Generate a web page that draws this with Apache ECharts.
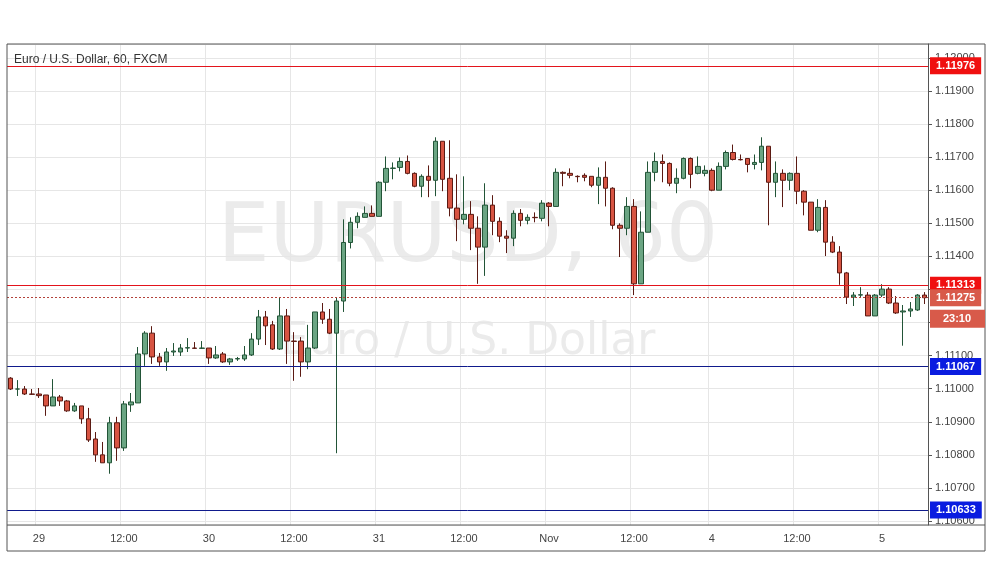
<!DOCTYPE html>
<html>
<head>
<meta charset="utf-8" />
<title>EURUSD 60</title>
<script src="https://cdn.jsdelivr.net/npm/echarts@6/dist/echarts.min.js"></script>
<style>
  html, body { margin: 0; padding: 0; background: #fff; }
  #chart { width: 991px; height: 588px; }
</style>
</head>
<body>
<div id="chart"></div>
<script type="text/javascript">
// hourly candles, Oct 28 20:00 .. Nov 5 06:00 (weekend removed)
var opens = [1.11032,1.10999,1.10999,1.10984,1.10984,1.10981,1.10948,1.10975,1.10963,1.10933,
  1.10948,1.10909,1.10848,1.10800,1.10776,1.10897,1.10821,1.10951,1.10957,1.11105,
  1.11168,1.11096,1.11081,1.11111,1.11111,1.11123,1.11123,1.11122,1.11123,1.11093,
  1.11105,1.11081,1.11090,1.11090,1.11102,1.11150,1.11217,1.11193,1.11120,1.11220,
  1.11144,1.11144,1.11081,1.11123,1.11232,1.11210,1.11168,1.11265,1.11442,1.11503,
  1.11518,1.11530,1.11521,1.11624,1.11666,1.11669,1.11687,1.11651,1.11612,1.11642,
  1.11630,1.11748,1.11636,1.11546,1.11512,1.11527,1.11485,1.11428,1.11555,1.11506,
  1.11461,1.11455,1.11530,1.11509,1.11518,1.11515,1.11561,1.11551,1.11654,1.11651,
  1.11642,1.11645,1.11642,1.11615,1.11639,1.11606,1.11494,1.11485,1.11551,1.11317,
  1.11473,1.11654,1.11687,1.11681,1.11621,1.11636,1.11696,1.11651,1.11651,1.11660,
  1.11600,1.11672,1.11714,1.11693,1.11696,1.11678,1.11684,1.11733,1.11624,1.11651,
  1.11630,1.11651,1.11597,1.11564,1.11479,1.11548,1.11443,1.11413,1.11350,1.11277,
  1.11283,1.11283,1.11220,1.11283,1.11301,1.11259,1.11232,1.11235,1.11238,1.11283];
var closes = [1.10999,1.10999,1.10984,1.10983,1.10979,1.10948,1.10975,1.10963,1.10933,1.10948,
  1.10909,1.10845,1.10800,1.10776,1.10897,1.10821,1.10954,1.10960,1.11105,1.11168,
  1.11096,1.11081,1.11111,1.11114,1.11123,1.11124,1.11122,1.11123,1.11093,1.11102,
  1.11081,1.11090,1.11091,1.11102,1.11150,1.11217,1.11190,1.11120,1.11220,1.11144,
  1.11143,1.11081,1.11123,1.11232,1.11210,1.11168,1.11265,1.11442,1.11503,1.11521,
  1.11530,1.11521,1.11624,1.11666,1.11667,1.11687,1.11651,1.11612,1.11642,1.11630,
  1.11748,1.11633,1.11546,1.11512,1.11527,1.11485,1.11428,1.11555,1.11506,1.11461,
  1.11455,1.11530,1.11509,1.11518,1.11517,1.11561,1.11551,1.11654,1.11651,1.11645,
  1.11641,1.11639,1.11615,1.11639,1.11606,1.11494,1.11485,1.11551,1.11317,1.11473,
  1.11654,1.11687,1.11681,1.11621,1.11636,1.11696,1.11648,1.11672,1.11660,1.11600,
  1.11672,1.11714,1.11693,1.11692,1.11678,1.11684,1.11733,1.11624,1.11651,1.11630,
  1.11651,1.11597,1.11564,1.11479,1.11548,1.11443,1.11413,1.11350,1.11277,1.11283,
  1.11284,1.11220,1.11283,1.11301,1.11259,1.11229,1.11235,1.11241,1.11283,1.11275];
var lows = [1.10996,1.10978,1.10981,1.10981,1.10972,1.10918,1.10948,1.10948,1.10930,1.10930,
  1.10894,1.10839,1.10779,1.10776,1.10743,1.10782,1.10812,1.10930,1.10957,1.11069,
  1.11075,1.11069,1.11054,1.11099,1.11099,1.11111,1.11120,1.11120,1.11075,1.11090,
  1.11078,1.11072,1.11084,1.11084,1.11099,1.11132,1.11132,1.11117,1.11117,1.11075,
  1.11024,1.11036,1.11059,1.11120,1.11196,1.11165,1.10805,1.11232,1.11424,1.11485,
  1.11518,1.11521,1.11521,1.11597,1.11633,1.11657,1.11648,1.11609,1.11579,1.11579,
  1.11582,1.11597,1.11521,1.11446,1.11497,1.11419,1.11317,1.11341,1.11464,1.11443,
  1.11410,1.11431,1.11491,1.11497,1.11503,1.11506,1.11491,1.11551,1.11612,1.11636,
  1.11624,1.11627,1.11609,1.11558,1.11551,1.11482,1.11398,1.11464,1.11283,1.11317,
  1.11473,1.11627,1.11624,1.11612,1.11591,1.11633,1.11606,1.11648,1.11642,1.11597,
  1.11600,1.11663,1.11690,1.11690,1.11654,1.11663,1.11660,1.11494,1.11579,1.11549,
  1.11600,1.11558,1.11524,1.11479,1.11473,1.11401,1.11410,1.11314,1.11256,1.11250,
  1.11277,1.11220,1.11220,1.11277,1.11256,1.11226,1.11130,1.11217,1.11235,1.11256];
var highs = [1.11035,1.11026,1.11008,1.10999,1.11002,1.10981,1.11029,1.10981,1.10966,1.10957,
  1.10948,1.10942,1.10869,1.10839,1.10915,1.10915,1.10963,1.10987,1.11126,1.11174,
  1.11189,1.11108,1.11123,1.11138,1.11135,1.11153,1.11141,1.11144,1.11123,1.11129,
  1.11111,1.11093,1.11096,1.11129,1.11168,1.11238,1.11235,1.11205,1.11277,1.11241,
  1.11171,1.11156,1.11193,1.11232,1.11259,1.11241,1.11277,1.11512,1.11518,1.11533,
  1.11551,1.11554,1.11627,1.11702,1.11684,1.11699,1.11705,1.11654,1.11648,1.11675,
  1.11760,1.11748,1.11751,1.11648,1.11642,1.11567,1.11521,1.11621,1.11585,1.11518,
  1.11479,1.11539,1.11543,1.11527,1.11533,1.11570,1.11564,1.11666,1.11657,1.11666,
  1.11645,1.11651,1.11642,1.11669,1.11687,1.11609,1.11500,1.11579,1.11573,1.11536,
  1.11687,1.11714,1.11708,1.11684,1.11666,1.11699,1.11699,1.11702,1.11675,1.11666,
  1.11684,1.11720,1.11738,1.11708,1.11696,1.11708,1.11760,1.11733,1.11687,1.11663,
  1.11654,1.11702,1.11600,1.11564,1.11573,1.11570,1.11461,1.11431,1.11353,1.11292,
  1.11307,1.11292,1.11286,1.11316,1.11307,1.11280,1.11253,1.11262,1.11286,1.11292];

var timeTickIdx = [4, 16, 28, 40, 52, 64, 76, 88, 99, 111, 123];
var timeTickText = ['29', '12:00', '30', '12:00', '31', '12:00', 'Nov', '12:00', '4', '12:00', '5'];

var levelPrices = [1.11976, 1.11313, 1.11067, 1.10633];
var levelColors = ['#e3141c', '#e3141c', '#0f1a8c', '#0f1a8c'];
var lastPrice = 1.11275;
var countdown = '23:10';

var cats = opens.map(function (v, i) { return i; });
var ohlc = opens.map(function (o, i) { return [o, closes[i], lows[i], highs[i]]; });

var markData = levelPrices.map(function (p, i) {
  return {
    yAxis: p,
    lineStyle: { color: levelColors[i], type: 'solid', width: 1, opacity: 1 },
    label: { backgroundColor: i < 2 ? '#f01010' : '#0a1ce0' }
  };
});
markData.push({
  yAxis: lastPrice,
  lineStyle: { color: '#b3423a', type: [2, 2], width: 1 },
  label: { backgroundColor: '#d85a4a' }
});

var graphics = [
  { id: 'frame', type: 'rect', shape: { x: 7, y: 44, width: 978, height: 507 }, style: { fill: 'none', stroke: '#555', lineWidth: 1 }, z: 10, silent: true },
  { id: 'sep', type: 'line', shape: { x1: 7, y1: 525, x2: 985, y2: 525 }, style: { stroke: '#555', lineWidth: 1 }, z: 10 },
  { id: 'title', type: 'text', x: 14, y: 54, style: { text: 'Euro / U.S. Dollar, 60, FXCM', fill: '#333', font: '12px "Liberation Sans", Arial' }, z: 10 },
  { id: 'wm1', type: 'text', x: 468, y: 240, style: { text: 'EURUSD, 60', fill: '#ebebeb', font: '82px "DejaVu Sans"', align: 'center', verticalAlign: 'middle' }, z: 0 },
  { id: 'wm2', type: 'text', x: 468, y: 343, style: { text: 'Euro / U.S. Dollar', fill: '#ebebeb', font: '44px "DejaVu Sans"', align: 'center', verticalAlign: 'middle' }, z: 0 }
];

var chart = echarts.init(document.getElementById('chart'));
chart.setOption({
  animation: false,
  backgroundColor: '#fff',
  grid: { left: 7, right: 63, top: 44, bottom: 63 },
  graphic: graphics,
  xAxis: {
    type: 'category',
    data: cats,
    boundaryGap: true,
    axisLine: { show: false },
    axisTick: { show: false },
    axisLabel: {
      interval: function (i) { return timeTickIdx.indexOf(i) >= 0; },
      formatter: function (v) { var k = timeTickIdx.indexOf(Number(v)); return k >= 0 ? timeTickText[k] : ''; },
      color: '#444', fontSize: 11, margin: 8, fontFamily: 'Liberation Sans'
    },
    splitLine: { show: true, interval: function (i) { return timeTickIdx.indexOf(i) >= 0; }, lineStyle: { color: '#e6e6e6' } }
  },
  yAxis: {
    type: 'value',
    position: 'right',
    min: 1.10588,
    max: 1.12042,
    splitNumber: 14,
    scale: true,
    axisLine: { show: true, lineStyle: { color: '#555' } },
    axisTick: { show: true, length: 4, lineStyle: { color: '#555' } },
    axisLabel: {
      showMinLabel: false, showMaxLabel: false,
      formatter: function (v) { return v.toFixed(5); },
      color: '#444', fontSize: 11, fontFamily: 'Liberation Sans', margin: 7
    },
    splitLine: { show: true, lineStyle: { color: '#e6e6e6' } }
  },
  series: [{
    type: 'candlestick',
    data: ohlc,
    barWidth: 5,
    itemStyle: {
      color: '#6ba583', color0: '#d75442',
      borderColor: '#225437', borderColor0: '#5b1a13', borderWidth: 1
    },
    markLine: {
      symbol: 'none',
      silent: true,
      precision: 5,
      z: 5,
      data: markData,
      label: {
        position: 'end', distance: 2,
        formatter: function (p) { return Number(p.value).toFixed(5); },
        color: '#fff', fontWeight: 'bold', fontSize: 11,
        padding: [3, 6, 3, 6], fontFamily: 'Liberation Sans'
      }
    }
  }]
});

var yLast = chart.convertToPixel({ yAxisIndex: 0 }, lastPrice);
graphics.push(
  { id: 'cdBox', type: 'rect', shape: { x: 930, y: yLast + 12, width: 55, height: 18 }, style: { fill: '#d85a4a' }, z: 20 },
  { id: 'cdText', type: 'text', x: 957, y: yLast + 21, style: { text: countdown, fill: '#fff', font: 'bold 11px "Liberation Sans"', align: 'center', verticalAlign: 'middle' }, z: 21 }
);
chart.setOption({ graphic: graphics });
</script>
</body>
</html>
